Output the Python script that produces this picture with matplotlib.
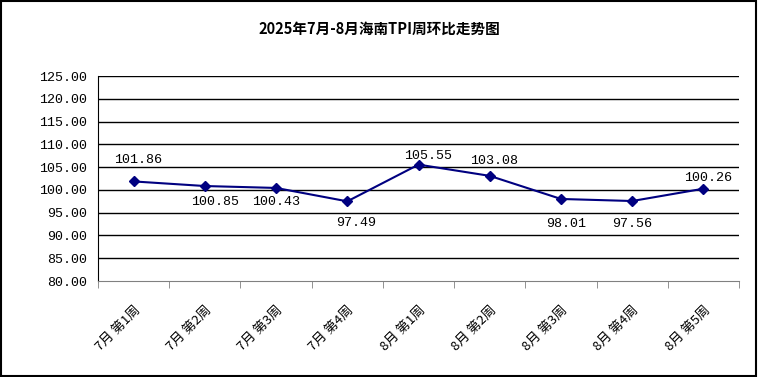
import numpy as np
import matplotlib
matplotlib.use('Agg')
from matplotlib import pyplot as plt

plt.rcParams['font.family'] = ['Noto Sans CJK SC', 'DejaVu Sans']
num_font = ['Liberation Mono', 'DejaVu Sans Mono']

weeks = ['7月 第1周', '7月 第2周', '7月 第3周', '7月 第4周',
         '8月 第1周', '8月 第2周', '8月 第3周', '8月 第4周', '8月 第5周']
tpi = [101.86, 100.85, 100.43, 97.49, 105.55, 103.08, 98.01, 97.56, 100.26]
y_ticks = np.arange(80, 126, 5)

# value label placement, pixel offset from each point (dx, dy up)
label_dx = [4, 10, 0, 9, 10, 4, 5, 0, 5]
label_dy = [21, -16, -14, -22, 9, 15, -25, -23, 11]

fig = plt.figure(figsize=(7.58, 3.77), dpi=100)
fig.patches.append(plt.Rectangle((0.001, 0.002), 0.997, 0.995, transform=fig.transFigure,
                                 fill=False, edgecolor='black', linewidth=1.5))
ax = fig.add_axes([0.1293, 0.2546, 0.8457, 0.5438])

x = np.arange(len(weeks))
ax.plot(x, tpi, color='#000080', linewidth=1.5, marker='D', markersize=5.5)

for xi, v, dx, dy in zip(x, tpi, label_dx, label_dy):
    ax.annotate('%.2f' % v, (xi, v), xytext=(dx, dy),
                textcoords='offset pixels', ha='center', va='center',
                fontsize=9.6, family=num_font)

ax.set_xlim(-0.5, len(weeks) - 0.5)
ax.set_ylim(80, 125)
ax.set_yticks(y_ticks)
ax.set_yticklabels(['%.2f' % t for t in y_ticks], fontsize=9.6, family=num_font)
for t in y_ticks[1:]:
    ax.axhline(t, color='black', linewidth=1, zorder=0)

ax.set_xticks(x)
ax.set_xticklabels(weeks, rotation=45, ha='right', va='top',
                   rotation_mode='anchor', fontsize=9.5)
ax.set_xticks(np.arange(-0.5, len(weeks)), minor=True)
ax.tick_params(axis='x', which='major', length=0, pad=16)
ax.tick_params(axis='x', which='minor', length=5, color='#808080', direction='out')
ax.tick_params(axis='y', length=0, pad=8)

for side in ['top', 'right']:
    ax.spines[side].set_visible(False)
ax.spines['bottom'].set_color('#808080')
ax.spines['left'].set_color('black')

fig.text(0.5, 0.925, '2025年7月-8月海南TPI周环比走势图', ha='center', va='center',
         fontsize=10.5, fontweight='bold')

fig.savefig('out.png', dpi=100)
